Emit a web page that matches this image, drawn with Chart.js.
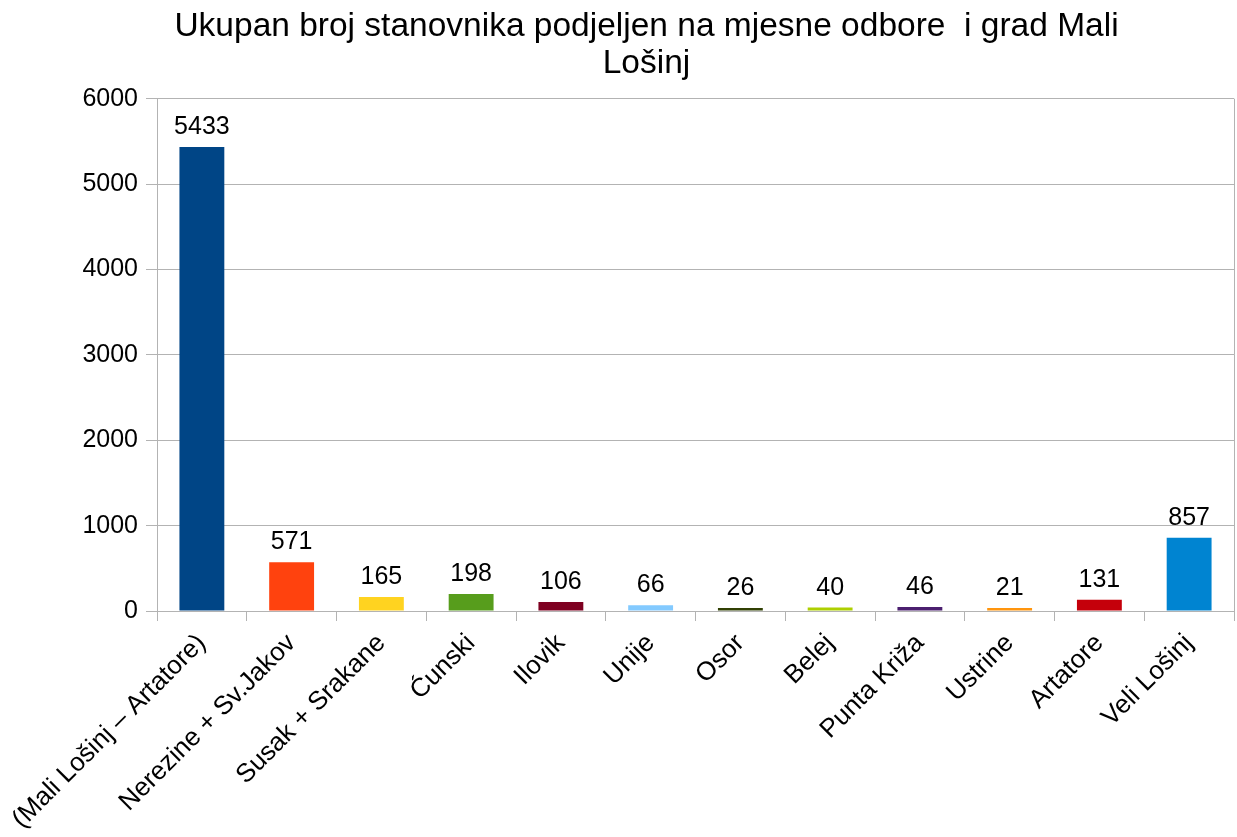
<!DOCTYPE html>
<html>
<head>
<meta charset="utf-8">
<script src="https://cdn.jsdelivr.net/npm/chart.js@4"></script>
<style>
html,body{margin:0;padding:0;background:#fff;}
#wrap{width:1237px;height:837px;}
</style>
</head>
<body>
<div id="wrap"><canvas id="c" width="1237" height="837"></canvas></div>
<script>
const titleLines = ["Ukupan broj stanovnika podjeljen na mjesne odbore  i grad Mali", "Lošinj"];
const categories = ["(Mali Lošinj – Artatore)", "Nerezine + Sv.Jakov", "Susak + Srakane", "Ćunski", "Ilovik", "Unije", "Osor", "Belej", "Punta Križa", "Ustrine", "Artatore", "Veli Lošinj"];
const values = [5433, 571, 165, 198, 106, 66, 26, 40, 46, 21, 131, 857];
const barColors = ["#004586", "#ff420e", "#ffd320", "#579d1c", "#7e0021", "#83caff", "#314004", "#aecf00", "#4b1f6f", "#ff950e", "#c5000b", "#0084d1"];
const yTicks = [0, 1000, 2000, 3000, 4000, 5000, 6000];

const FONT = "'Liberation Sans', Arial, sans-serif";
const GRID = "#b3b3b3";

const valueLabels = {
  id: 'valueLabels',
  afterDatasetsDraw(chart) {
    const ctx = chart.ctx;
    const meta = chart.getDatasetMeta(0);
    ctx.save();
    ctx.font = "25px " + FONT;
    ctx.fillStyle = "#000";
    ctx.textAlign = "center";
    ctx.textBaseline = "alphabetic";
    meta.data.forEach((bar, i) => {
      ctx.fillText(String(values[i]), bar.x, bar.y - 13);
    });
    ctx.restore();
  }
};

const rightBorder = {
  id: 'rightBorder',
  afterDraw(chart) {
    const a = chart.chartArea, ctx = chart.ctx;
    ctx.save();
    ctx.strokeStyle = GRID;
    ctx.lineWidth = 1;
    ctx.beginPath();
    ctx.moveTo(Math.round(a.right) + 0.5, a.top);
    ctx.lineTo(Math.round(a.right) + 0.5, a.bottom);
    ctx.stroke();
    ctx.restore();
  }
};

new Chart(document.getElementById('c'), {
  type: 'bar',
  data: {
    labels: categories,
    datasets: [{
      data: values,
      backgroundColor: barColors,
      borderWidth: 0,
      minBarLength: 3,
      categoryPercentage: 1.0,
      barPercentage: 0.5
    }]
  },
  options: {
    responsive: false,
    animation: false,
    layout: { padding: { left: 59, right: 3, top: 0, bottom: 0 } },
    plugins: {
      legend: { display: false },
      tooltip: { enabled: false },
      title: {
        display: true,
        text: titleLines,
        color: "#000",
        font: { family: FONT, size: 33.5, weight: 'normal', lineHeight: 1.1 },
        padding: { top: 8, bottom: 17 }
      }
    },
    scales: {
      x: {
        grid: { display: true, drawOnChartArea: false, drawTicks: true, tickLength: 10, color: GRID, offset: true },
        border: { display: true, color: GRID },
        ticks: { color: "#000", font: { family: FONT, size: 26 }, maxRotation: 45, minRotation: 45, autoSkip: false, padding: 7 },
        afterFit(scale) { scale.height = 226; }
      },
      y: {
        min: 0, max: 6000,
        afterBuildTicks(scale) { scale.ticks = yTicks.map(v => ({ value: v })); },
        grid: { color: GRID, tickLength: 11 },
        border: { display: true, color: GRID },
        ticks: { color: "#000", font: { family: FONT, size: 25 }, padding: 8, callback: (v) => String(v) },
        afterFit(scale) { scale.width = 98; }
      }
    }
  },
  plugins: [valueLabels, rightBorder]
});
</script>
</body>
</html>
